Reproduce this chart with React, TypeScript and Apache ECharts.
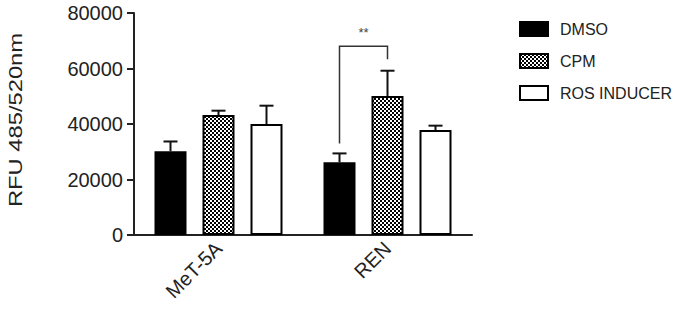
import React, { useEffect, useRef } from 'react';
import * as echarts from 'echarts';

const categories = ['MeT-5A', 'REN'];
const seriesNames = ['DMSO', 'CPM', 'ROS INDUCER'];
const dmsoValues = [30200, 26200];
const dmsoErrors = [3500, 3200];
const cpmValues = [43200, 50100];
const cpmErrors = [1600, 9100];
const rosValues = [40000, 37800];
const rosErrors = [6600, 1600];
const yMin = 0;
const yMax = 80000;
const yInterval = 20000;
const yAxisTitle = 'RFU 485/520nm';
// significance bracket: [categoryIndex, leftBase, top, rightBase, labelValue]
const sigBracket = [[1, 33000, 68000, 63300, 72800]];
const sigLabel = '**';

const FONT = '"Liberation Sans", Arial, Helvetica, sans-serif';
const TEXT = '#222';
const BAR_W = 32;
const BAR_GAP_PX = 16;
const STEP = BAR_W + BAR_GAP_PX;
const CAP = 7;

function makePattern(): HTMLCanvasElement {
  const c = document.createElement('canvas');
  c.width = 4;
  c.height = 4;
  const ctx = c.getContext('2d')!;
  ctx.fillStyle = '#fff';
  ctx.fillRect(0, 0, 4, 4);
  ctx.fillStyle = '#000';
  ctx.fillRect(0, 0, 2, 2);
  ctx.fillRect(2, 2, 2, 2);
  return c;
}

function errSeries(values: number[], errors: number[], slot: number) {
  return {
    type: 'custom',
    silent: true,
    z: 1,
    data: values.map((v, i) => [i, v, errors[i]]),
    renderItem: (params: any, api: any) => {
      const base = api.coord([api.value(0), api.value(1)]);
      const top = api.coord([api.value(0), api.value(1) + api.value(2)]);
      const x = base[0] + slot * STEP;
      return {
        type: 'group',
        children: [
          { type: 'line', shape: { x1: x, y1: base[1], x2: x, y2: top[1] }, style: { stroke: '#111', lineWidth: 2 } },
          { type: 'line', shape: { x1: x - CAP, y1: top[1], x2: x + CAP, y2: top[1] }, style: { stroke: '#111', lineWidth: 2 } },
        ],
      };
    },
  };
}

export default function App() {
  const ref = useRef<HTMLDivElement>(null);
  useEffect(() => {
    if (!ref.current) return;
    const chart = echarts.init(ref.current, null, { renderer: 'svg' });
    const pattern = makePattern();
    const option: any = {
      animation: false,
      grid: { left: 134, top: 13, width: 338, height: 222, containLabel: false, outerBoundsMode: 'none' },
      legend: {
        orient: 'vertical',
        left: 514,
        top: 16,
        itemWidth: 28,
        itemHeight: 14,
        itemGap: 16,
        icon: 'rect',
        selectedMode: false,
        data: seriesNames,
        textStyle: { fontSize: 16, color: TEXT, fontFamily: FONT, padding: [0, 0, 0, 7] },
      },
      xAxis: {
        type: 'category',
        data: categories,
        axisLine: { lineStyle: { color: '#222', width: 2 } },
        axisTick: { alignWithLabel: true, length: 6, lineStyle: { color: '#222', width: 2 } },
        axisLabel: { rotate: 45, fontSize: 20, color: TEXT, fontFamily: FONT, margin: 10, interval: 0 },
        splitLine: { show: false },
      },
      yAxis: {
        type: 'value',
        min: yMin,
        max: yMax,
        interval: yInterval,
        axisLine: { show: true, lineStyle: { color: '#222', width: 2 } },
        axisTick: { show: true, length: 7, lineStyle: { color: '#222', width: 2 } },
        axisLabel: { fontSize: 20, color: TEXT, fontFamily: FONT, margin: 11, formatter: (v: number) => String(v) },
        splitLine: { show: false },
      },
      graphic: [
        {
          type: 'text',
          x: 16,
          y: 120,
          rotation: Math.PI / 2,
          scaleX: 1.25,
          style: {
            text: yAxisTitle,
            fontSize: 19,
            fontFamily: FONT,
            fill: TEXT,
            align: 'center',
            verticalAlign: 'middle',
          },
        },
      ],
      series: [
        {
          type: 'bar',
          name: seriesNames[0],
          data: dmsoValues,
          barWidth: BAR_W,
          barGap: (BAR_GAP_PX / BAR_W) * 100 + '%',
          z: 2,
          itemStyle: { color: '#000', borderColor: '#000', borderWidth: 2 },
        },
        {
          type: 'bar',
          name: seriesNames[1],
          data: cpmValues,
          barWidth: BAR_W,
          barGap: (BAR_GAP_PX / BAR_W) * 100 + '%',
          z: 2,
          itemStyle: { color: { image: pattern, repeat: 'repeat' }, borderColor: '#000', borderWidth: 2 },
        },
        {
          type: 'bar',
          name: seriesNames[2],
          data: rosValues,
          barWidth: BAR_W,
          barGap: (BAR_GAP_PX / BAR_W) * 100 + '%',
          z: 2,
          itemStyle: { color: '#fff', borderColor: '#000', borderWidth: 2 },
        },
        errSeries(dmsoValues, dmsoErrors, -1),
        errSeries(cpmValues, cpmErrors, 0),
        errSeries(rosValues, rosErrors, 1),
        {
          type: 'custom',
          silent: true,
          z: 3,
          data: sigBracket,
          renderItem: (params: any, api: any) => {
            const c = api.value(0);
            const l = api.coord([c, api.value(1)]);
            const t = api.coord([c, api.value(2)]);
            const r = api.coord([c, api.value(3)]);
            const lab = api.coord([c, api.value(4)]);
            const xl = l[0] - STEP;
            const xr = l[0];
            return {
              type: 'group',
              children: [
                {
                  type: 'polyline',
                  shape: { points: [[xl, l[1]], [xl, t[1]], [xr, t[1]], [xr, r[1]]] },
                  style: { stroke: '#333', lineWidth: 1.5, fill: 'none' },
                },
                {
                  type: 'text',
                  x: (xl + xr) / 2,
                  y: lab[1],
                  style: { text: sigLabel, fontSize: 13, fontFamily: FONT, fill: '#444', align: 'center', verticalAlign: 'middle' },
                },
              ],
            };
          },
        },
      ],
    };
    chart.setOption(option);
    return () => chart.dispose();
  }, []);
  return <div ref={ref} style={{ position: 'absolute', left: 0, top: 0, width: 685, height: 314 }} />;
}
